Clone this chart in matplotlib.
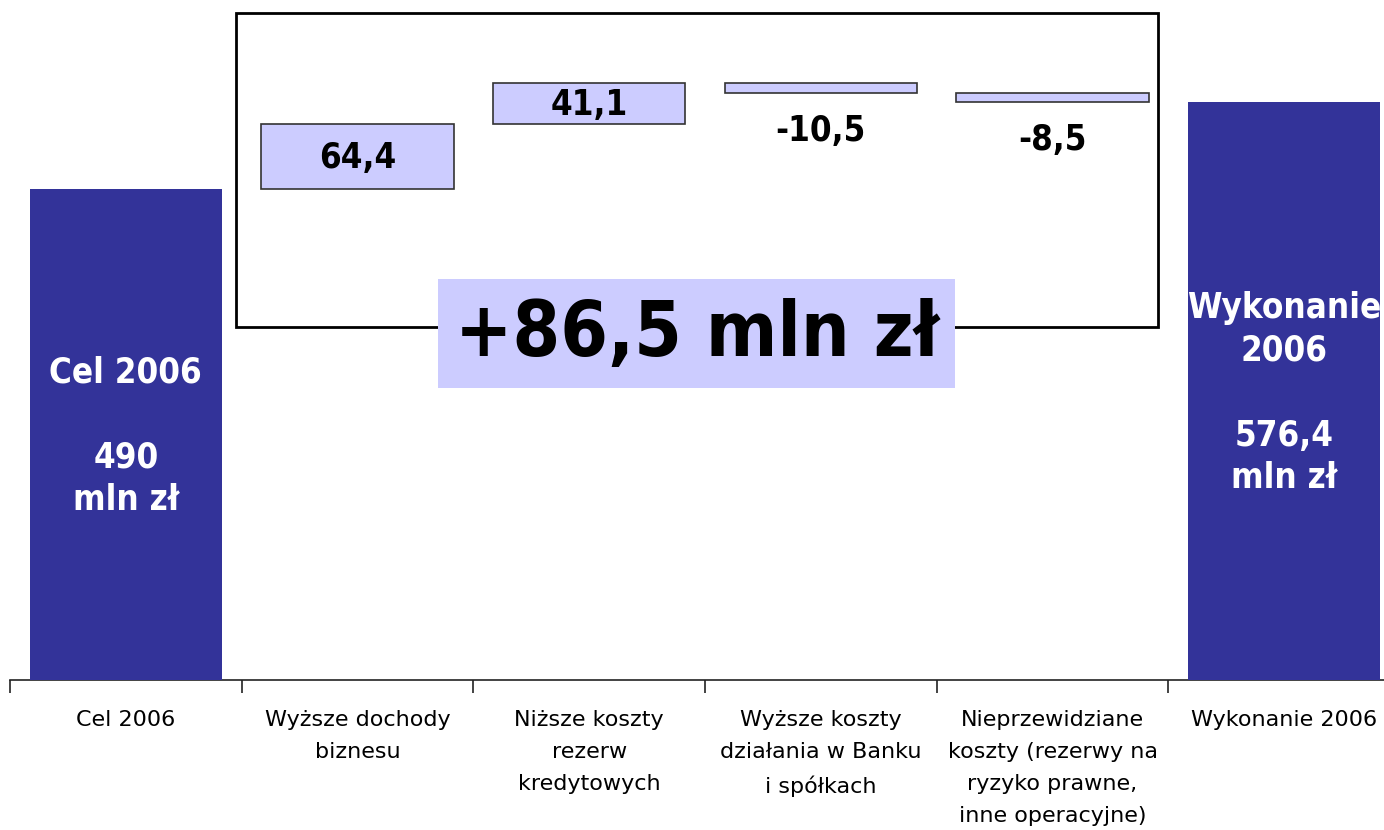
import matplotlib
matplotlib.use("Agg")
import matplotlib.pyplot as plt
from matplotlib.patches import Rectangle
import numpy as np

plt.rcParams['font.family'] = ['DejaVu Sans']

categories = ["Cel 2006", "Wyższe dochody\nbiznesu", "Niższe koszty\nrezerw\nkredytowych",
              "Wyższe koszty\ndziałania w Banku\ni spółkach",
              "Nieprzewidziane\nkoszty (rezerwy na\nryzyko prawne,\ninne operacyjne)",
              "Wykonanie 2006"]
start_value = 490.0
deltas = [64.4, 41.1, -10.5, -8.5]
end_value = 576.4
start_label = "Cel 2006\n\n490\nmln zł"
end_label = "Wykonanie\n2006\n\n576,4\nmln zł"

DARK = "#333399"
LIGHT = "#CCCCFF"
BOLD = dict(fontweight="bold", fontstretch="condensed")

def fmt(v):
    return f"{v:.1f}".replace(".", ",")

fig = plt.figure(figsize=(13.84, 8.30), dpi=100)
W, H = 1384, 830
ax = fig.add_axes([10 / W, (H - 680) / H, 1390 / W, 680 / H])
ax.set_xlim(-0.5, 5.5)
ax.set_ylim(0, 678)

x = np.arange(len(categories))
bw = 0.83

# totals
ax.bar(x[0], start_value, width=bw, color=DARK, zorder=3)
ax.bar(x[-1], end_value, width=bw, color=DARK, zorder=3)

# floating changes
cum = start_value
for i, d in enumerate(deltas, start=1):
    bottom = cum if d >= 0 else cum + d
    ax.bar(x[i], abs(d), bottom=bottom, width=bw, color=LIGHT,
           edgecolor="#333333", linewidth=1.2, zorder=3)
    if d >= 0:
        ax.text(x[i], bottom + abs(d) / 2 - 2, fmt(d), ha="center", va="center",
                fontsize=25, zorder=4, **BOLD)
    else:
        ax.text(x[i], bottom - 38, fmt(d), ha="center", va="center",
                fontsize=25, zorder=4, **BOLD)
    cum += d

ax.text(x[0], 243, start_label, ha="center", va="center", color="white",
        fontsize=25, linespacing=1.31, zorder=4, **BOLD)
ax.text(x[-1], 286, end_label, ha="center", va="center", color="white",
        fontsize=25, linespacing=1.31, zorder=4, **BOLD)

# frame around the change components
ax.add_patch(Rectangle((0.476, 352), 4.457 - 0.476, 665 - 352, fill=False,
                       edgecolor="black", linewidth=2, zorder=2))

# total change callout
total_change = sum(deltas)
ax.add_patch(Rectangle((1.348, 291), 3.580 - 1.348, 400 - 291,
                       facecolor=LIGHT, edgecolor="none", zorder=5))
ax.text(2.464, 344, "+" + fmt(total_change) + " mln zł", ha="center", va="center",
        fontsize=55, zorder=6, **BOLD)

for s in ["top", "right", "left"]:
    ax.spines[s].set_visible(False)
ax.spines["bottom"].set_color("#222222")
ax.spines["bottom"].set_linewidth(1.2)
ax.set_yticks([])
ax.set_xticks(x)
ax.set_xticklabels(categories, fontsize=16, linespacing=1.76, va="top")
ax.tick_params(axis="x", which="major", length=0, pad=21.5)
ax.set_xticks(np.arange(-0.5, 6, 1.0), minor=True)
ax.tick_params(axis="x", which="minor", length=9, width=1.2, color="#222222", direction="out")

fig.savefig("out.png", dpi=100)
